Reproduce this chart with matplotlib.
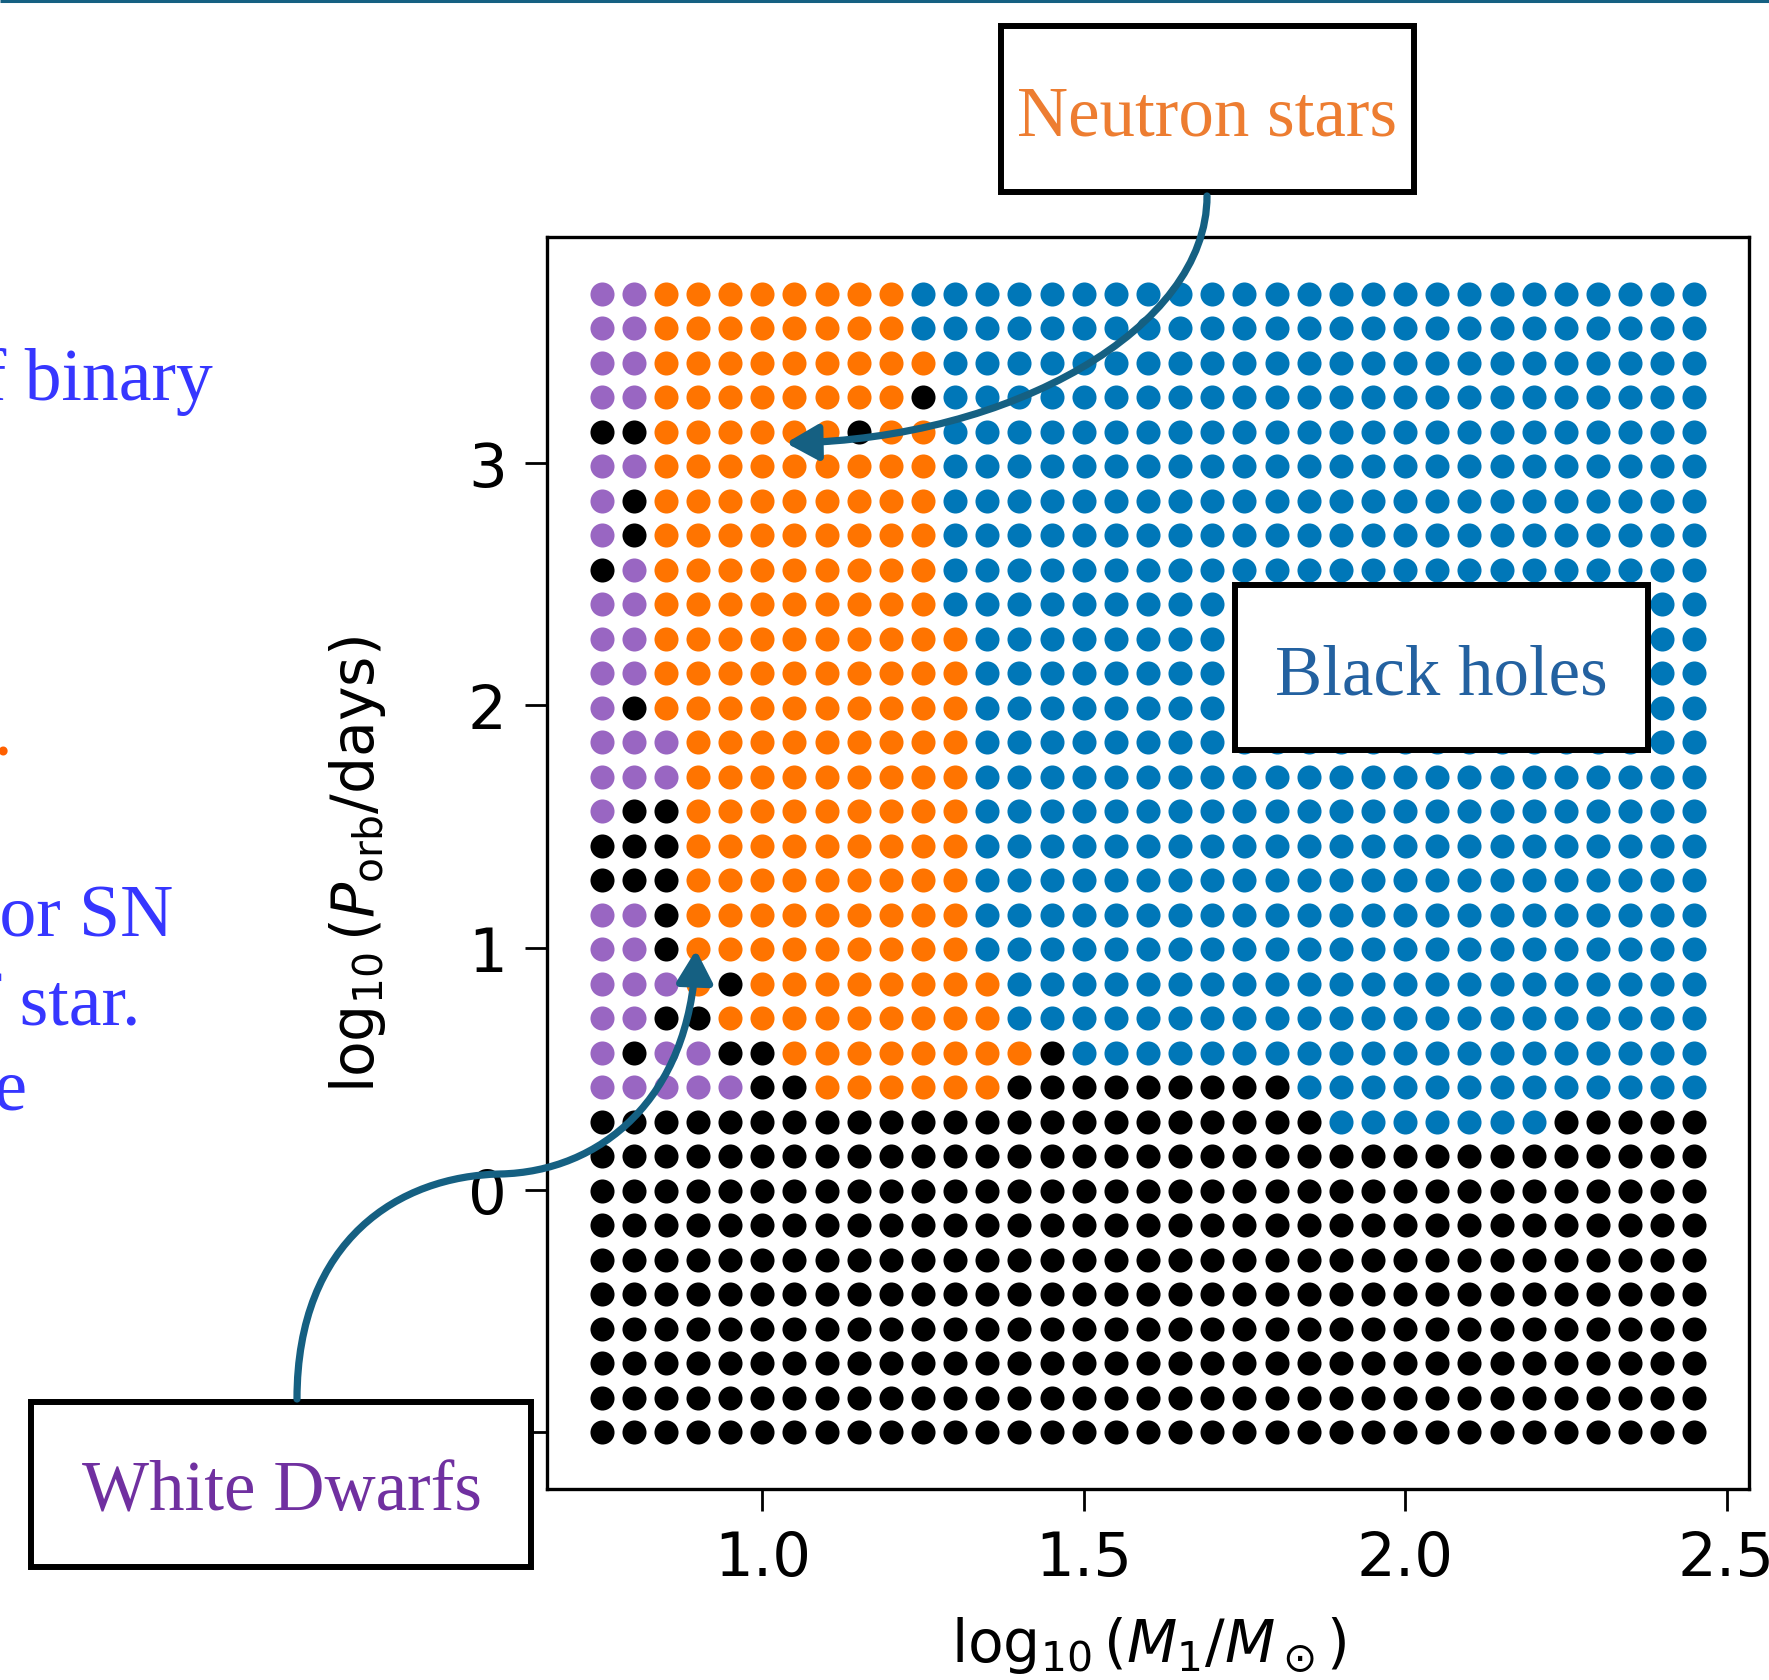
import matplotlib
matplotlib.use("Agg")
import matplotlib.pyplot as plt
from matplotlib.patches import Rectangle, FancyArrowPatch
from matplotlib.path import Path

# model grid: log10 primary mass (columns) and log10 orbital period (rows, top row first)
log_m1 = [0.75, 0.80, 0.85, 0.90, 0.95, 1.00, 1.05, 1.10, 1.15, 1.20, 1.25, 1.30,
          1.35, 1.40, 1.45, 1.50, 1.55, 1.60, 1.65, 1.70, 1.75, 1.80, 1.85, 1.90,
          1.95, 2.00, 2.05, 2.10, 2.15, 2.20, 2.25, 2.30, 2.35, 2.40, 2.45]
log_porb = [3.699, 3.557, 3.414, 3.272, 3.129, 2.987, 2.845, 2.702, 2.560, 2.417,
            2.275, 2.133, 1.990, 1.848, 1.705, 1.563, 1.421, 1.278, 1.136, 0.994,
            0.851, 0.709, 0.566, 0.424, 0.282, 0.139, -0.003, -0.146, -0.288, -0.430,
            -0.573, -0.715, -0.858, -1.000]

# remnant of each model, one string per row
# P = white dwarf, O = neutron star, B = black hole, K = no remnant / merger
outcome = [
    "PPOOOOOOOOBBBBBBBBBBBBBBBBBBBBBBBBB",
    "PPOOOOOOOOBBBBBBBBBBBBBBBBBBBBBBBBB",
    "PPOOOOOOOOOBBBBBBBBBBBBBBBBBBBBBBBB",
    "PPOOOOOOOOKBBBBBBBBBBBBBBBBBBBBBBBB",
    "KKOOOOOOKOOBBBBBBBBBBBBBBBBBBBBBBBB",
    "PPOOOOOOOOOBBBBBBBBBBBBBBBBBBBBBBBB",
    "PKOOOOOOOOOBBBBBBBBBBBBBBBBBBBBBBBB",
    "PKOOOOOOOOOBBBBBBBBBBBBBBBBBBBBBBBB",
    "KPOOOOOOOOOBBBBBBBBBBBBBBBBBBBBBBBB",
    "PPOOOOOOOOOBBBBBBBBBBBBBBBBBBBBBBBB",
    "PPOOOOOOOOOOBBBBBBBBBBBBBBBBBBBBBBB",
    "PPOOOOOOOOOOBBBBBBBBBBBBBBBBBBBBBBB",
    "PKOOOOOOOOOOBBBBBBBBBBBBBBBBBBBBBBB",
    "PPPOOOOOOOOOBBBBBBBBBBBBBBBBBBBBBBB",
    "PPPOOOOOOOOOBBBBBBBBBBBBBBBBBBBBBBB",
    "PKKOOOOOOOOOBBBBBBBBBBBBBBBBBBBBBBB",
    "KKKOOOOOOOOOBBBBBBBBBBBBBBBBBBBBBBB",
    "KKKOOOOOOOOOBBBBBBBBBBBBBBBBBBBBBBB",
    "PPKOOOOOOOOOBBBBBBBBBBBBBBBBBBBBBBB",
    "PPKOOOOOOOOOBBBBBBBBBBBBBBBBBBBBBBB",
    "PPPOKOOOOOOOOBBBBBBBBBBBBBBBBBBBBBB",
    "PPKKOOOOOOOOOBBBBBBBBBBBBBBBBBBBBBB",
    "PKPPKKOOOOOOOOKBBBBBBBBBBBBBBBBBBBB",
    "PPPPPKKOOOOOOKKKKKKKKKBBBBBBBBBBBBB",
    "KKKKKKKKKKKKKKKKKKKKKKKBBBBBBBKKKKK",
    "KKKKKKKKKKKKKKKKKKKKKKKKKKKKKKKKKKK",
    "KKKKKKKKKKKKKKKKKKKKKKKKKKKKKKKKKKK",
    "KKKKKKKKKKKKKKKKKKKKKKKKKKKKKKKKKKK",
    "KKKKKKKKKKKKKKKKKKKKKKKKKKKKKKKKKKK",
    "KKKKKKKKKKKKKKKKKKKKKKKKKKKKKKKKKKK",
    "KKKKKKKKKKKKKKKKKKKKKKKKKKKKKKKKKKK",
    "KKKKKKKKKKKKKKKKKKKKKKKKKKKKKKKKKKK",
    "KKKKKKKKKKKKKKKKKKKKKKKKKKKKKKKKKKK",
    "KKKKKKKKKKKKKKKKKKKKKKKKKKKKKKKKKKK",
]

outcome_color = {'K': '#000000', 'P': '#9966c2', 'O': '#ff7400', 'B': '#0077b8'}

teal = '#156082'

fig = plt.figure(figsize=(17.69, 16.81), dpi=100)
ax = fig.add_axes([0.3092, 0.1136, 0.6795, 0.7448])

# collect points per outcome
pts = {c: ([], []) for c in outcome_color}
for p, row in zip(log_porb, outcome):
    for m, c in zip(log_m1, row):
        pts[c][0].append(m)
        pts[c][1].append(p)

for c, color in outcome_color.items():
    ax.scatter(pts[c][0], pts[c][1], s=300, color=color, linewidths=0)

ax.set_xticks([1.0, 1.5, 2.0, 2.5])
ax.set_yticks([-1, 0, 1, 2, 3])
ax.tick_params(labelsize=44, length=16, width=2, pad=13)
for sp in ax.spines.values():
    sp.set_linewidth(2.4)

ax.set_xlabel(r'$\log_{10}(M_1/M_\odot)$', fontsize=42)
ax.set_ylabel(r'$\log_{10}(P_{\rm orb}/{\rm days})$', fontsize=42)
ax.xaxis.set_label_coords(0.5, -0.1)
ax.yaxis.set_label_coords(-0.132, 0.5)

# overlay in pixel coordinates for the slide annotations
ov = fig.add_axes([0, 0, 1, 1])
ov.set_xlim(0, 1769)
ov.set_ylim(1681, 0)
ov.axis('off')
ov.patch.set_alpha(0)

ov.plot([0, 1769], [1.5, 1.5], color=teal, lw=2.2, solid_capstyle='butt')

serif = 'Liberation Serif'
boxes = [
    ((1001, 27), 413, 166, 'Neutron stars', '#ed7d31', 1207, 135),
    ((1235, 586), 413, 165, 'Black holes', '#2361a0', 1441, 695),
    ((31, 1403), 500, 165, 'White Dwarfs', '#7030a0', 282, 1511),
]
for xy, w, h, label, col, tx, ty in boxes:
    ov.add_patch(Rectangle(xy, w, h, facecolor='white', edgecolor='black', lw=4.3, zorder=3))
    ov.text(tx, ty, label, color=col, fontsize=51, family=serif,
            ha='center', va='baseline', zorder=4)

# arrows
ns_path = Path([(1207, 197), (1207, 330), (1010, 440), (786, 444)],
               [Path.MOVETO, Path.CURVE4, Path.CURVE4, Path.CURVE4])
wd_path = Path([(297, 1400), (297, 1240), (400, 1177), (500, 1175),
                (600, 1173), (690, 1100), (696, 951)],
               [Path.MOVETO, Path.CURVE4, Path.CURVE4, Path.CURVE4,
                Path.CURVE4, Path.CURVE4, Path.CURVE4])
for pth in (ns_path, wd_path):
    ov.add_patch(FancyArrowPatch(path=pth, arrowstyle='-|>,head_length=0.8,head_width=0.45',
                                 mutation_scale=24, lw=5.2, color=teal, zorder=5))

# cropped slide text on the left edge
blue = '#3636ff'
ov.text(213, 400, 'of binary', color=blue, fontsize=53, family=serif, ha='right', va='baseline')
ov.text(12, 755, 'stars.', color='#ff6000', fontsize=53, family=serif, ha='right', va='baseline')
ov.text(173, 936, 'for SN', color=blue, fontsize=53, family=serif, ha='right', va='baseline')
ov.text(140, 1025, 'of star.', color=blue, fontsize=53, family=serif, ha='right', va='baseline')
ov.text(27, 1111, 'the', color=blue, fontsize=53, family=serif, ha='right', va='baseline')

fig.savefig('out.png', dpi=100)
